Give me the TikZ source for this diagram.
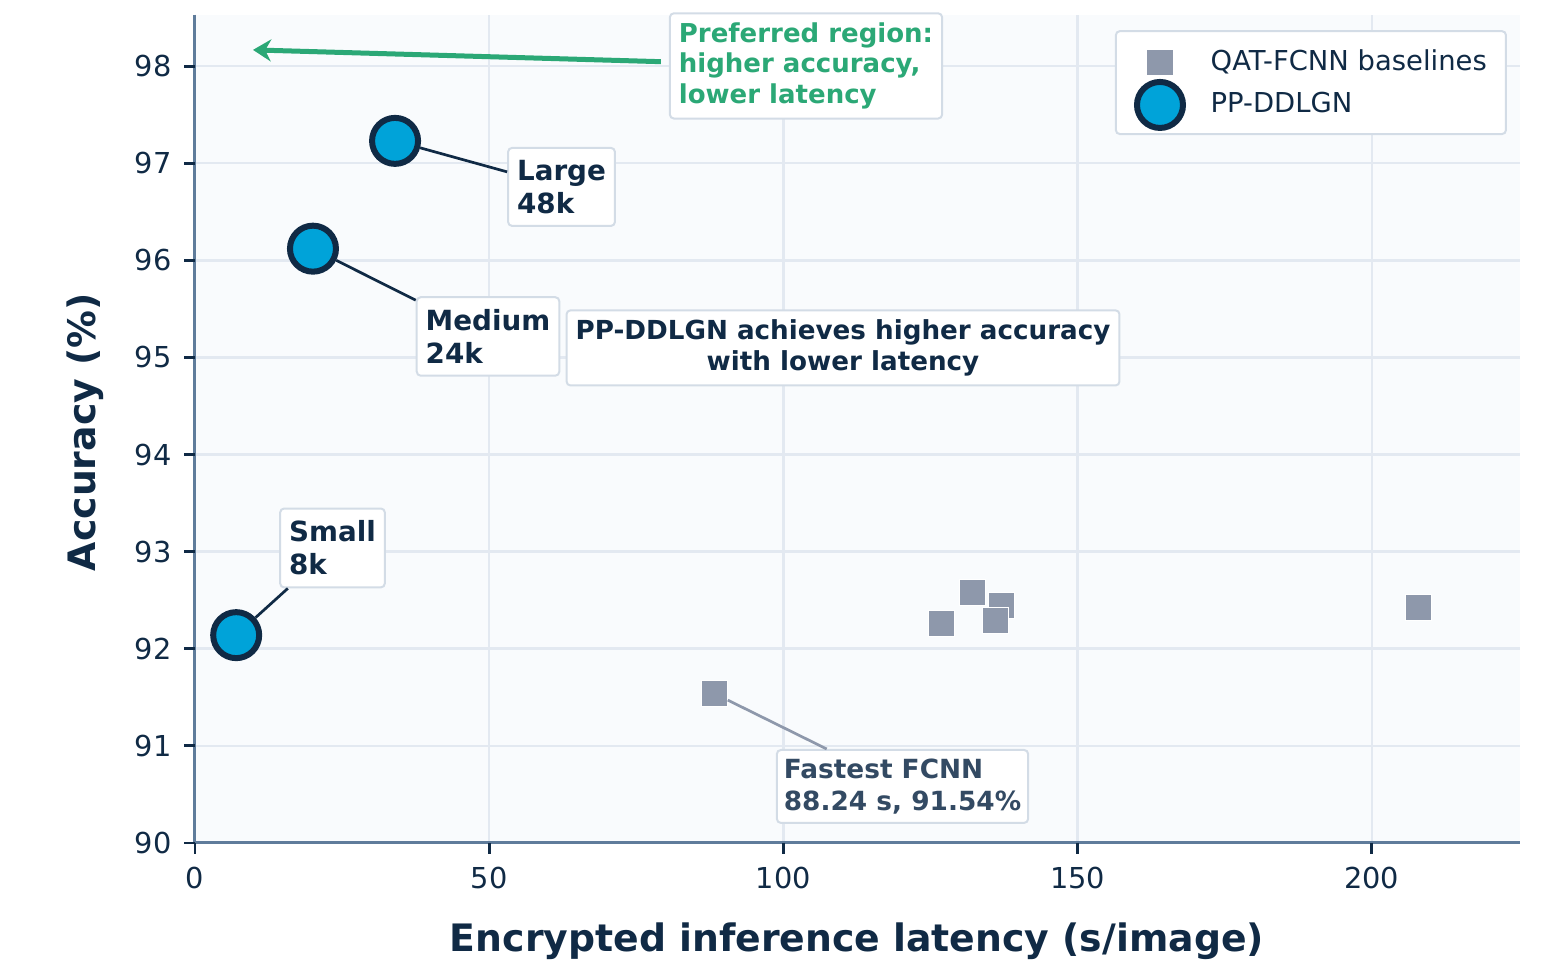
\documentclass[tikz,border=0pt]{standalone}
\usepackage{fontspec}
\setmainfont{DejaVu Sans}
\usetikzlibrary{arrows.meta}

\definecolor{navy}{HTML}{102A45}
\definecolor{slatetext}{HTML}{334A63}
\definecolor{spine}{HTML}{5F7C9B}
\definecolor{gridc}{HTML}{E3E9F1}
\definecolor{plotbg}{HTML}{F9FBFD}
\definecolor{ppblue}{HTML}{00A3D9}
\definecolor{fcnngray}{HTML}{8E98AB}
\definecolor{prefgreen}{HTML}{2BA876}
\definecolor{boxline}{HTML}{D3DCE6}

\begin{document}
\begin{tikzpicture}[x=0.05884cm, y=0.971cm,
   every node/.style={text=navy},
   gridline/.style={draw=gridc, line width=0.25mm},
   spineline/.style={draw=spine, line width=0.3mm},
   tickmark/.style={draw=navy, line width=0.28mm},
   ticklabel/.style={font=\fontsize{8.2}{10}\selectfont, inner sep=0pt},
   axislabel/.style={font=\fontsize{10.75}{12}\selectfont\bfseries, inner sep=0pt},
   ppnode/.style={circle, draw=navy, fill=ppblue, line width=0.6mm, minimum size=4.6mm, inner sep=0pt},
   fcnnnode/.style={rectangle, fill=fcnngray, draw=white, line width=0.1mm, minimum size=2.6mm, inner sep=0pt},
   notebox/.style={draw=boxline, fill=white, line width=0.2mm, rounded corners=0.4mm,
      inner xsep=0.9mm, inner ysep=1.2mm, align=left, font=\fontsize{7.9}{9.5}\selectfont\bfseries},
   pointer/.style={draw=navy, line width=0.27mm},
   legendtext/.style={font=\fontsize{7.8}{9}\selectfont, inner sep=0pt, anchor=west},
]
   \useasboundingbox (-33.14,88.733) rectangle (232.49,98.682);

   % axes area
   \fill[plotbg] (0,90) rectangle (225.2,98.53);
   \foreach \x in {50,100,150,200}
      \draw[gridline] (\x,90) -- (\x,98.53);
   \foreach \y in {91,...,98}
      \draw[gridline] (0,\y) -- (225.2,\y);
   \draw[spineline] (0,98.53) -- (0,90) -- (225.2,90);

   % ticks
   \foreach \y in {90,...,98} {
      \draw[tickmark] (0,\y) -- ++(-1.1mm,0);
      \node[ticklabel, anchor=east] (ytick-\y) at (-3.9,\y) {\y};
   }
   \foreach \x in {0,50,100,150,200} {
      \draw[tickmark] (\x,90) -- ++(0,-1.1mm);
      \node[ticklabel, anchor=north] (xtick-\x) at (\x,89.76) {\x};
   }
   \node[axislabel, rotate=90] (ylabel) at (-18.7,94.23) {Accuracy (\%)};
   \node[axislabel] (xlabel) at (112.5,88.99) {Encrypted inference latency (s/image)};

   % QAT-FCNN baselines
   \node[fcnnnode] (fastest) at (88.24,91.54) {};
   \node[fcnnnode] (fcnn-b) at (126.95,92.26) {};
   \node[fcnnnode] (fcnn-c) at (132.2,92.58) {};
   \node[fcnnnode] (fcnn-d) at (137.0,92.45) {};
   \node[fcnnnode] (fcnn-e) at (136.0,92.29) {};
   \node[fcnnnode] (fcnn-f) at (208.0,92.42) {};

   % PP-DDLGN models
   \node[ppnode] (small) at (7.0,92.14) {};
   \node[ppnode] (medium) at (20.05,96.12) {};
   \node[ppnode] (large) at (34.0,97.23) {};

   % labels
   \node[notebox] (lbl-large) at (62.29,96.756) {Large\\48k};
   \node[notebox] (lbl-medium) at (49.80,95.216) {Medium\\24k};
   \node[notebox] (lbl-small) at (23.37,93.038) {Small\\8k};
   \node[notebox, text=slatetext, inner xsep=0.7mm, inner ysep=0.9mm, font=\fontsize{7.5}{9}\selectfont\bfseries]
      (lbl-fastest) at (120.24,90.582) {Fastest FCNN\\88.24 s, 91.54\%};
   \draw[pointer] (lbl-large) -- (large);
   \draw[pointer] (lbl-medium) -- (medium);
   \draw[pointer] (lbl-small) -- (small);
   \draw[pointer, draw=fcnngray] (lbl-fastest) -- (fastest);

   \node[notebox, align=center, inner ysep=0.9mm, font=\fontsize{7.45}{9}\selectfont\bfseries] (summary) at (110.13,95.098)
      {PP-DDLGN achieves higher accuracy\\with lower latency};

   % preferred region
   \coordinate (best) at (9.86,98.167);
   \node[notebox, text=prefgreen, inner ysep=0.9mm, font=\fontsize{7.4}{8.8}\selectfont\bfseries] (pref) at (103.84,98.002)
      {Preferred region:\\higher accuracy,\\lower latency};
   \draw[-{Stealth[length=1.8mm,width=2.2mm]}, draw=prefgreen, fill=prefgreen, line width=0.5mm, shorten <=0.8mm]
      ([yshift=0.4mm]pref.west) -- (best);

   % legend
   \draw[draw=boxline, fill=white, line width=0.2mm, rounded corners=0.4mm] (156.5,97.30) rectangle (222.8,98.36);
   \node[fcnnnode] (leg-fcnn) at (164.0,98.04) {};
   \node[legendtext] (leg-fcnn-text) at (172.5,98.04) {QAT-FCNN baselines};
   \node[ppnode] (leg-pp) at (164.0,97.60) {};
   \node[legendtext] (leg-pp-text) at (172.5,97.62) {PP-DDLGN};
\end{tikzpicture}
\end{document}
